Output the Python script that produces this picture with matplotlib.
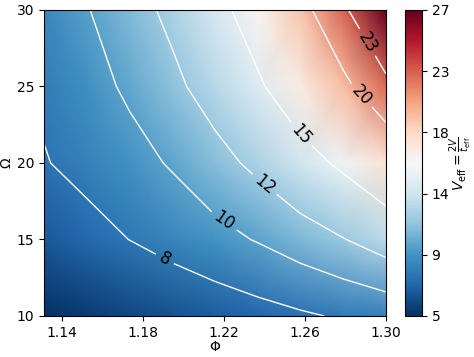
import numpy as np
import matplotlib
matplotlib.use("Agg")
import matplotlib.pyplot as plt
from matplotlib.ticker import FormatStrFormatter

# grid
phi = [1.131, 1.1521, 1.1733, 1.1944, 1.2155, 1.2366, 1.2578, 1.2789, 1.30]
omega = [10, 15, 20, 25, 30]

v_omega10 = [5.0, 5.5, 5.95, 6.4, 6.85, 7.3, 7.75, 8.2, 8.6]
v_omega15 = [6.7, 7.36, 8.02, 8.71, 9.40, 10.12, 11.02, 11.92, 13.05]
v_omega20 = [7.9, 8.55, 9.34, 10.18, 11.28, 12.49, 13.92, 15.49, 17.5]
v_omega25 = [8.3, 9.28, 10.32, 11.51, 12.96, 14.61, 16.87, 19.33, 22.2]
v_omega30 = [8.8, 9.9, 11.14, 12.51, 14.15, 16.33, 19.08, 22.43, 27.0]

levels = [8, 10, 12, 15, 20, 23]

V = np.array([v_omega10, v_omega15, v_omega20, v_omega25, v_omega30])
PHI, OMEGA = np.meshgrid(phi, omega)

fig = plt.figure(figsize=(4.74, 3.57), dpi=100)
ax = fig.add_axes([0.093, 0.115, 0.721, 0.857])
cax = fig.add_axes([0.854, 0.115, 0.036, 0.857])

mesh = ax.pcolormesh(PHI, OMEGA, V, shading="gouraud", cmap="RdBu_r", vmin=5, vmax=27)
cs = ax.contour(PHI, OMEGA, V, levels=levels, colors="white", linewidths=1)
# where the labels sit in the reference
label_spots = [(1.191, 13.8), (1.2205, 16.3), (1.240, 18.6), (1.2575, 21.8), (1.292, 24.9), (1.291, 27.9)]
ax.clabel(cs, fmt="%d", colors="k", fontsize=12, manual=label_spots)

ax.set_xlim(phi[0], phi[-1])
ax.set_ylim(omega[0], omega[-1])
ax.set_xticks([1.14, 1.18, 1.22, 1.26, 1.30])
ax.xaxis.set_major_formatter(FormatStrFormatter("%.2f"))
ax.set_yticks([10, 15, 20, 25, 30])
ax.set_xlabel("Φ", labelpad=0)
ax.set_ylabel("Ω", labelpad=2)

cb = fig.colorbar(mesh, cax=cax, ticks=np.linspace(5, 27, 6), format="%.0f")
cb.set_label(r"$V_{\rm eff} = \frac{2V}{t_{\rm eff}}$", labelpad=-1)

fig.savefig("out.png", dpi=100)
